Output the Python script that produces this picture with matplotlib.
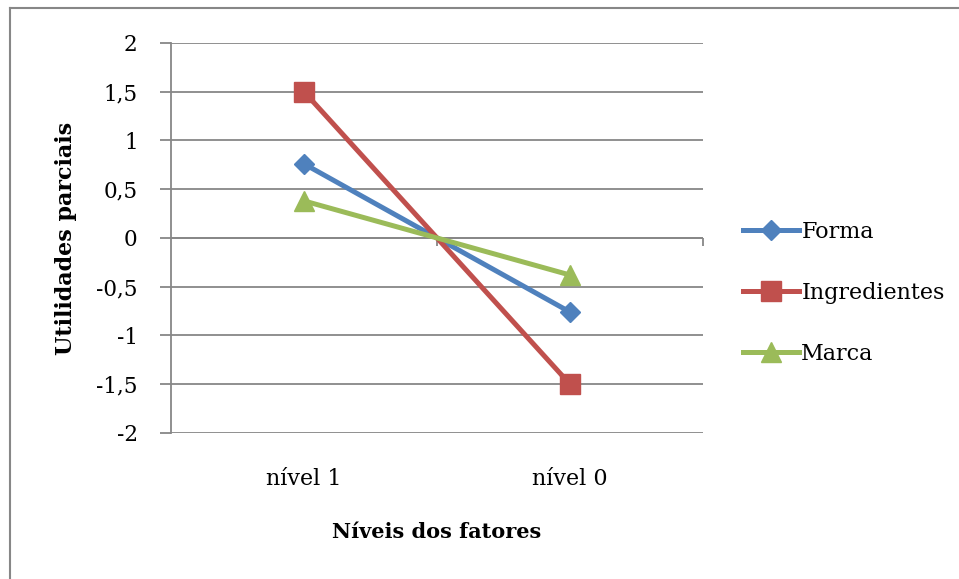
import matplotlib.pyplot as plt
import matplotlib.markers as mmarkers
from matplotlib.lines import Line2D

# Part-worth utilities per factor level
niveis = ['nível 1', 'nível 0']
forma = [0.76, -0.76]
ingredientes = [1.5, -1.5]
marca = [0.38, -0.38]

y_ticks = [-2, -1.5, -1, -0.5, 0, 0.5, 1, 1.5, 2]
y_labels = ['-2', '-1,5', '-1', '-0,5', '0', '0,5', '1', '1,5', '2']

plt.rcParams['font.family'] = ['DejaVu Serif']
grid_col = '#878787'

fig = plt.figure(figsize=(9.59, 5.79), dpi=100)
ax = fig.add_axes([0.1783, 0.2522, 0.5548, 0.6736])

x = range(len(niveis))
ax.plot(x, forma, color='#4F81BD', lw=3.6, marker='D', ms=10, label='Forma', zorder=3)
ax.plot(x, ingredientes, color='#C0504D', lw=3.6, marker='s', ms=14, label='Ingredientes', zorder=3)
ax.plot(x, marca, color='#9BBB59', lw=3.6, marker='^', ms=14, label='Marca', zorder=3)

ax.set_xlim(-0.5, 1.5)
ax.set_ylim(-2, 2)
ax.set_yticks(y_ticks)
ax.set_yticklabels(y_labels, fontsize=15.5)
ax.yaxis.grid(True, color=grid_col, lw=1.3)
ax.set_axisbelow(True)
ax.tick_params(axis='y', direction='out', length=8, width=1.3, color=grid_col, pad=16)

ax.set_xticks(list(x))
ax.set_xticklabels(niveis, fontsize=16)
ax.tick_params(axis='x', length=0, pad=25)

for side in ['top', 'right', 'bottom']:
    ax.spines[side].set_visible(False)
ax.spines['left'].set_color(grid_col)
ax.spines['left'].set_linewidth(1.3)

# category axis crossing at zero, with tick marks between categories
ax.axhline(0, color=grid_col, lw=1.3, zorder=1)
ax.plot([0.5, 1.5], [0, 0], ls='none', marker=mmarkers.TICKDOWN,
        ms=6, mew=1.3, color=grid_col, zorder=1, clip_on=False)

ax.set_xlabel('Níveis dos fatores', fontsize=15, fontweight='bold', labelpad=23)
ax.set_ylabel('Utilidades parciais', fontsize=16, fontweight='bold', labelpad=14)

ax.legend(loc='center left', bbox_to_anchor=(0.766, 0.494), bbox_transform=fig.transFigure,
          frameon=False, fontsize=16, handlelength=2.5, handletextpad=0.1,
          labelspacing=1.75, borderaxespad=0)

# outer chart frame (top and left edges)
fig.add_artist(Line2D([0.0104, 1.0], [0.986, 0.986], color=grid_col, lw=1.5, transform=fig.transFigure))
fig.add_artist(Line2D([0.0104, 0.0104], [0.0, 0.986], color=grid_col, lw=1.5, transform=fig.transFigure))

fig.savefig('out.png', dpi=100)
